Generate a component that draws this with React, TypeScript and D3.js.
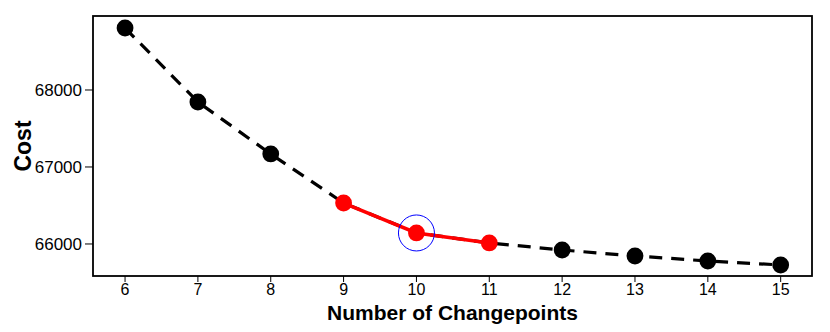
import React from "react";
import * as d3 from "d3";

const changepoints = [6, 7, 8, 9, 10, 11, 12, 13, 14, 15];
const costs = [68805, 67844, 67169, 66532, 66143, 66013, 65922, 65844, 65779, 65727];
const highlighted = [9, 10, 11];
const chosen = 10;
const xTicks = [6, 7, 8, 9, 10, 11, 12, 13, 14, 15];
const yTicks = [66000, 67000, 68000];

const WIDTH = 830;
const HEIGHT = 332;
const MARGIN = { top: 16, right: 18, bottom: 56, left: 93 };

const App = () => {
  const x = d3.scaleLinear().domain([5.56, 15.43]).range([MARGIN.left, WIDTH - MARGIN.right]);
  const y = d3.scaleLinear().domain([65584, 68961]).range([HEIGHT - MARGIN.bottom, MARGIN.top]);
  const data = changepoints.map((c, i) => ({ c, v: costs[i] }));
  const line = d3
    .line<{ c: number; v: number }>()
    .x((d) => x(d.c))
    .y((d) => y(d.v));
  const redData = data.filter((d) => highlighted.includes(d.c));
  const pick = data.find((d) => d.c === chosen)!;
  const font = "Liberation Sans, Arial, sans-serif";
  const bottom = HEIGHT - MARGIN.bottom;

  return (
    <svg width={WIDTH} height={HEIGHT} style={{ position: "absolute", left: 0, top: 0 }}>
      <rect width={WIDTH} height={HEIGHT} fill="white" />
      <path d={line(data) || ""} fill="none" stroke="black" strokeWidth={3.2} strokeDasharray="13,9" />
      <path d={line(redData) || ""} fill="none" stroke="red" strokeWidth={3.5} />
      {data.map((d) => (
        <circle
          key={d.c}
          cx={x(d.c)}
          cy={y(d.v)}
          r={8.4}
          fill={highlighted.includes(d.c) ? "red" : "black"}
        />
      ))}
      <circle cx={x(pick.c)} cy={y(pick.v)} r={18} fill="none" stroke="blue" strokeWidth={1} />
      <rect
        x={MARGIN.left}
        y={MARGIN.top}
        width={WIDTH - MARGIN.left - MARGIN.right}
        height={bottom - MARGIN.top}
        fill="none"
        stroke="black"
        strokeWidth={1.8}
      />
      {xTicks.map((t) => (
        <g key={t}>
          <line x1={x(t)} x2={x(t)} y1={bottom} y2={bottom + 6} stroke="black" strokeWidth={1} />
          <text x={x(t)} y={295} textAnchor="middle" fontFamily={font} fontSize={16}>
            {t}
          </text>
        </g>
      ))}
      {yTicks.map((t) => (
        <g key={t}>
          <line x1={MARGIN.left - 8} x2={MARGIN.left} y1={y(t)} y2={y(t)} stroke="black" strokeWidth={1} />
          <text x={MARGIN.left - 11} y={y(t) + 6} textAnchor="end" fontFamily={font} fontSize={17}>
            {t}
          </text>
        </g>
      ))}
      <text
        x={(MARGIN.left + WIDTH - MARGIN.right) / 2}
        y={320}
        textAnchor="middle"
        fontFamily={font}
        fontSize={21}
        fontWeight="bold"
      >
        Number of Changepoints
      </text>
      <text
        transform={`translate(31,${(MARGIN.top + bottom) / 2}) rotate(-90)`}
        textAnchor="middle"
        fontFamily={font}
        fontSize={23}
        fontWeight="bold"
      >
        Cost
      </text>
    </svg>
  );
};

export default App;
